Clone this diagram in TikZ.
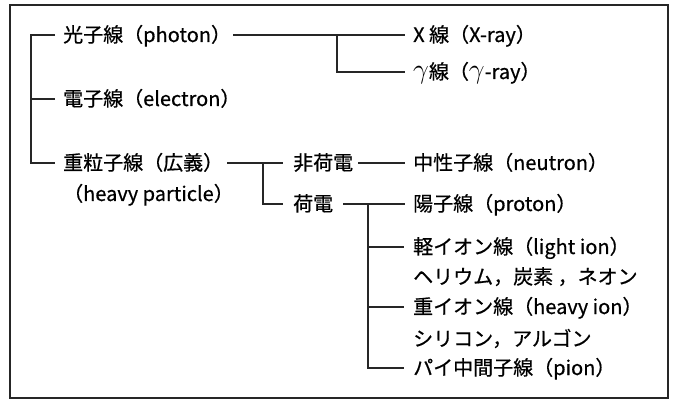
\documentclass[tikz,border=0pt]{standalone}
\usepackage{fontspec}
\setmainfont{Noto Sans CJK JP}[FakeBold=0.6]
\usetikzlibrary{calc}
\newcommand{\diafont}{\fontsize{20}{24}\selectfont}
\newcommand{\gam}{\raisebox{0pt}{\scalebox{1.35}{$\gamma$}}}
\begin{document}
\begin{tikzpicture}[x=1pt,y=-1pt,
  lbl/.style={anchor=west,inner sep=0pt,font=\diafont,text height=16pt,text depth=2pt},
  conn/.style={line width=1.1pt,draw=black!85},
  frame/.style={line width=1.5pt,draw=black!85}]
\useasboundingbox (0,0) rectangle (673,401);
\draw[frame] (10,5) rectangle (668,398);
% nodes
\node[lbl] (photon)   at (63,35)  {光子線（photon）};
\node[lbl] (xray)     at (413,35) {X 線（X-ray）};
\node[lbl] (gray)     at (413,72) {\gam 線（\gam-ray）};
\node[lbl] (electron) at (63,99)  {電子線（electron）};
\node[lbl] (heavy)    at (63,163) {重粒子線（広義）};
\node[lbl] (heavyen)  at (63,194) {（heavy particle）};
\node[lbl] (nonch)    at (293,163) {非荷電};
\node[lbl] (charged)  at (293,204) {荷電};
\node[lbl] (neutron)  at (413,163) {中性子線（neutron）};
\node[lbl] (proton)   at (413,204) {陽子線（proton）};
\node[lbl] (light)    at (413,247) {軽イオン線（light ion）};
\node[lbl] (lightex)  at (413,277) {ヘリウム，炭素 ，ネオン};
\node[lbl] (heavyion) at (413,307) {重イオン線（heavy ion）};
\node[lbl] (heavyex)  at (413,339) {シリコン，アルゴン};
\node[lbl] (pion)     at (413,368) {パイ中間子線（pion）};
% branch points
\coordinate (trunk) at (31,35);
\coordinate (pb) at (337,35);
\coordinate (hb) at (263,163);
\coordinate (cb) at (368,204);
% left tree
\draw[conn] ([xshift=-8pt]photon.west) -- (trunk) |- ([xshift=-8pt]heavy.west);
\draw[conn] ([xshift=-8pt]electron.west) -- (trunk |- electron.west);
% photon
\draw[conn] ([xshift=2pt]photon.east) -- ([xshift=-8pt]xray.west);
\draw[conn] (pb) |- ([xshift=-8pt]gray.west);
% heavy particle
\draw[conn] ([xshift=4pt]heavy.east) -- ([xshift=-10pt]nonch.west);
\draw[conn] (hb) |- ([xshift=-10pt]charged.west);
\draw[conn] ([xshift=5pt]nonch.east) -- ([xshift=-8pt]neutron.west);
\draw[conn] ([xshift=10pt]charged.east) -- ([xshift=-8pt]proton.west);
\draw[conn] (cb) |- ([xshift=-9pt]pion.west);
\draw[conn] (cb |- light.west) -- ([xshift=-9pt]light.west);
\draw[conn] (cb |- heavyion.west) -- ([xshift=-9pt]heavyion.west);
\end{tikzpicture}
\end{document}
